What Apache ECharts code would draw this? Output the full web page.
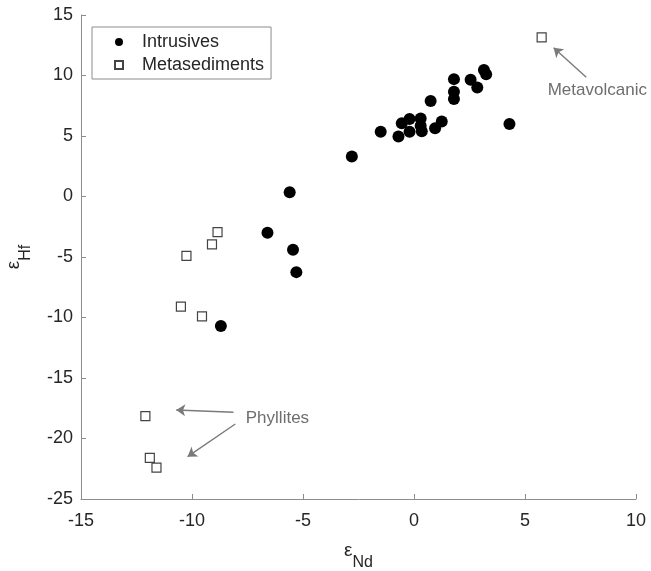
<!DOCTYPE html>
<html>
<head>
<meta charset="utf-8">
<script src="https://cdn.jsdelivr.net/npm/echarts@6/dist/echarts.min.js"></script>
<style>
html,body{margin:0;padding:0;background:#fff;}
#chart{width:651px;height:571px;}
</style>
</head>
<body>
<div id="chart"></div>
<script>
// ---- data ----
const seriesNames = ['Intrusives', 'Metasediments'];
const intrusivesX = [-8.7, -6.6, -5.6, -5.45, -5.3, -2.8, -1.5, -0.7, -0.55, -0.2, -0.2, 0.3, 0.3, 0.35, 0.75, 0.95, 1.25, 1.8, 1.8, 1.8, 2.55, 2.85, 3.15, 3.25, 4.3];
const intrusivesY = [-10.7, -3.0, 0.35, -4.4, -6.25, 3.3, 5.35, 4.95, 6.05, 6.4, 5.35, 6.45, 5.85, 5.4, 7.9, 5.65, 6.2, 9.7, 8.65, 8.05, 9.65, 9.0, 10.45, 10.1, 6.0];
const metaX = [5.75, -8.85, -9.1, -10.25, -10.5, -9.55, -12.1, -11.9, -11.6];
const metaY = [13.15, -2.95, -3.95, -4.9, -9.1, -9.9, -18.15, -21.6, -22.4];
const xTicks = [-15, -10, -5, 0, 5, 10];
const yTicks = [-25, -20, -15, -10, -5, 0, 5, 10, 15];
// annotations (data coordinates)
const annoLabels = ['Metavolcanic', 'Phyllites'];
const annoTextPos = [[6.0, 8.8], [-7.6, -18.3]];
const arrows = [
  [[7.76, 9.85], [6.29, 12.3]],
  [[-8.13, -17.83], [-10.71, -17.64]],
  [[-8.05, -18.8], [-10.2, -21.5]]
];

const zip = (a, b) => a.map((v, i) => [v, b[i]]);
const FONT = '"Liberation Sans", Arial, Helvetica, sans-serif';

const chart = echarts.init(document.getElementById('chart'));
chart.setOption({
  animation: false,
  backgroundColor: '#fff',
  textStyle: { fontFamily: FONT },
  grid: { left: 81, right: 15, top: 15, bottom: 72, containLabel: false, outerBoundsMode: 'none' },
  legend: {
    orient: 'vertical',
    left: 92, top: 27,
    data: seriesNames,
    itemWidth: 8, itemHeight: 8,
    itemGap: 3,
    padding: [5, 7, 4, 22],
    borderColor: '#8c8c8c', borderWidth: 1,
    backgroundColor: '#fff',
    textStyle: { fontSize: 18, color: '#262626', fontFamily: FONT, lineHeight: 20, padding: [0, 0, 0, 14] }
  },
  xAxis: {
    type: 'value',
    min: xTicks[0], max: xTicks[xTicks.length - 1], interval: 5,
    name: '{e|ε}{s|Nd}',
    nameLocation: 'middle', nameGap: 42,
    nameTextStyle: {
      rich: {
        e: { fontSize: 19, color: '#262626', fontFamily: FONT, verticalAlign: 'top', lineHeight: 22 },
        s: { fontSize: 16, color: '#262626', fontFamily: FONT, padding: [14, 0, 0, 0], verticalAlign: 'top', lineHeight: 22 }
      }
    },
    axisLine: { onZero: false, lineStyle: { color: '#8c8c8c', width: 1 } },
    axisTick: { inside: true, length: 5, lineStyle: { color: '#8c8c8c' } },
    axisLabel: { fontSize: 18, color: '#262626', margin: 13, fontFamily: FONT },
    splitLine: { show: false }
  },
  yAxis: {
    type: 'value',
    min: yTicks[0], max: yTicks[yTicks.length - 1], interval: 5,
    name: '{e|ε}{s|Hf}',
    nameLocation: 'middle', nameGap: 55, nameRotate: 90,
    nameTextStyle: {
      rich: {
        e: { fontSize: 19, color: '#262626', fontFamily: FONT, verticalAlign: 'top', lineHeight: 22 },
        s: { fontSize: 16, color: '#262626', fontFamily: FONT, padding: [14, 0, 0, 0], verticalAlign: 'top', lineHeight: 22 }
      }
    },
    axisLine: { onZero: false, lineStyle: { color: '#8c8c8c', width: 1 } },
    axisTick: { inside: true, length: 5, lineStyle: { color: '#8c8c8c' } },
    axisLabel: { fontSize: 18, color: '#262626', margin: 8, fontFamily: FONT },
    splitLine: { show: false }
  },
  series: [
    {
      name: seriesNames[0],
      type: 'scatter',
      symbol: 'circle',
      symbolSize: 12,
      itemStyle: { color: '#000', opacity: 1 },
      data: zip(intrusivesX, intrusivesY),
      z: 3
    },
    {
      name: seriesNames[1],
      type: 'scatter',
      symbol: 'rect',
      symbolSize: 9,
      itemStyle: { color: '#fff', borderColor: '#444', borderWidth: 1.2, opacity: 1 },
      data: zip(metaX, metaY),
      z: 4,
      markLine: {
        silent: true,
        symbol: ['none', 'arrow'],
        symbolSize: 9,
        lineStyle: { color: '#7a7a7a', width: 1.4, type: 'solid' },
        itemStyle: { color: '#7a7a7a' },
        label: { show: false },
        emphasis: { disabled: true },
        data: arrows.map(a => [{ coord: a[0] }, { coord: a[1] }])
      },
      markPoint: {
        silent: true,
        symbol: 'circle',
        symbolSize: 1,
        itemStyle: { color: 'rgba(0,0,0,0)' },
        label: {
          show: true, position: 'right', distance: 0,
          fontSize: 17, color: '#6e6e6e', fontFamily: FONT,
          formatter: p => p.name
        },
        data: annoLabels.map((n, i) => ({ name: n, coord: annoTextPos[i] }))
      }
    }
  ]
});
</script>
</body>
</html>
